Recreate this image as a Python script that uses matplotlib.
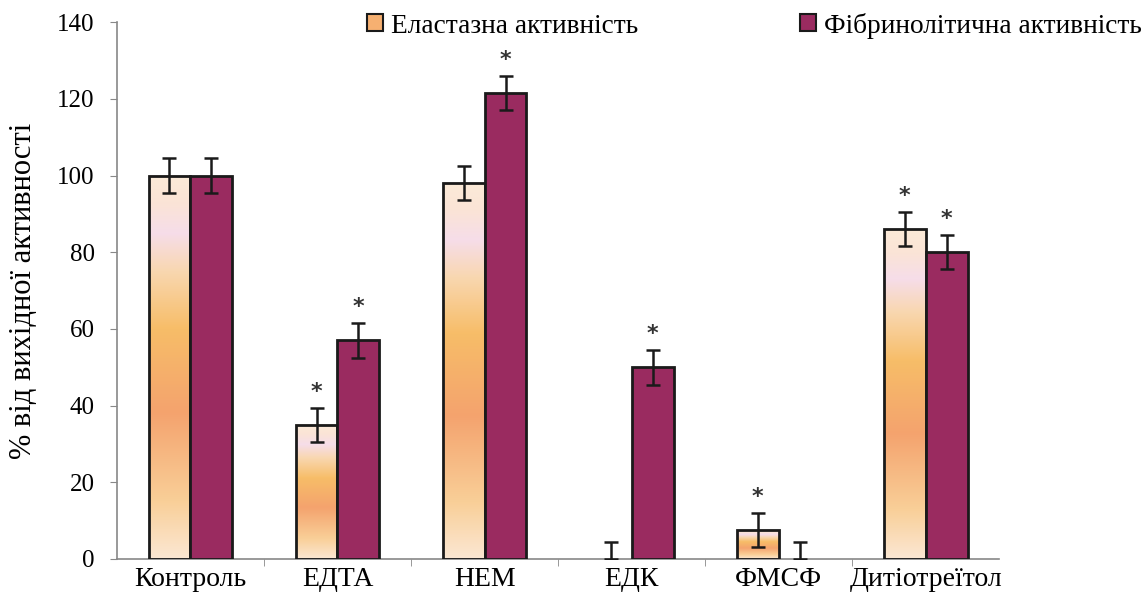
import numpy as np
import matplotlib.pyplot as plt
from matplotlib.colors import LinearSegmentedColormap
from matplotlib.patches import Patch

plt.rcParams['font.family'] = ['Liberation Serif', 'DejaVu Serif']

categories = ['Контроль', 'ЕДТА', 'НЕМ', 'ЕДК', 'ФМСФ', 'Дитіотреїтол']
elastase = [100, 35, 98, 0, 7.5, 86]
elastase_err = [4.5, 4.5, 4.5, 4.5, 4.5, 4.5]
fibrin = [100, 57, 121.5, 50, 0, 80]
fibrin_err = [4.5, 4.5, 4.5, 4.5, 4.5, 4.5]
elastase_star = [False, True, False, False, True, True]
fibrin_star = [False, True, True, True, False, True]

grad = LinearSegmentedColormap.from_list('elast', [
    (0.0, '#fbe7d3'), (0.15, '#f9cf98'), (0.38, '#f4a36e'),
    (0.6, '#f7bd68'), (0.75, '#f9d7b0'), (0.85, '#f6dde9'),
    (0.93, '#fbe4d6'), (1.0, '#fbead8')])
purple = '#9a2b60'
ink = '#1a1a1a'

fig, ax = plt.subplots(figsize=(11.46, 6.01), dpi=100)
fig.subplots_adjust(left=0.102, right=0.872, bottom=0.07, top=0.963)

x = np.arange(len(categories))
w = 0.285

# elastase bars with vertical gradient
g = np.linspace(0, 1, 256).reshape(-1, 1)
for xi, h in zip(x, elastase):
    if h > 0:
        ax.imshow(g, cmap=grad, origin='lower', aspect='auto',
                  extent=[xi - w, xi, 0, h], zorder=2)
        ax.bar(xi - w / 2, h, w, facecolor='none', edgecolor=ink, lw=2, zorder=3)
for xi, h in zip(x, fibrin):
    if h > 0:
        ax.bar(xi + w / 2, h, w, color=purple, edgecolor=ink, lw=2, zorder=3)

# error bars (only upward where the bar is zero)
for xi, v, e in zip(x - w / 2, elastase, elastase_err):
    lo = 0 if v == 0 else e
    ax.errorbar(xi, v, yerr=[[lo], [e]], fmt='none', ecolor=ink,
                elinewidth=1.8, capsize=5, capthick=1.8, zorder=4)
for xi, v, e in zip(x + w / 2, fibrin, fibrin_err):
    lo = 0 if v == 0 else e
    ax.errorbar(xi, v, yerr=[[lo], [e]], fmt='none', ecolor=ink,
                elinewidth=1.8, capsize=5, capthick=1.8, zorder=4)

for xi, v, e, s in zip(x - w / 2, elastase, elastase_err, elastase_star):
    if s:
        ax.text(xi, v + e + 1.5, '*', ha='center', va='bottom', fontsize=16,
                family='DejaVu Sans', fontweight='bold', color='#333333')
for xi, v, e, s in zip(x + w / 2, fibrin, fibrin_err, fibrin_star):
    if s:
        ax.text(xi, v + e + 1.5, '*', ha='center', va='bottom', fontsize=16,
                family='DejaVu Sans', fontweight='bold', color='#333333')

ax.set_xlim(-0.5, 5.5)
ax.set_ylim(0, 140)
ax.set_yticks(np.arange(0, 141, 20))
ax.set_xticks(x)
ax.set_xticklabels(categories, fontsize=20)
ax.set_xticks(np.arange(0.5, 5.5, 1), minor=True)
ax.tick_params(axis='x', which='major', length=0, pad=6)
ax.tick_params(axis='x', which='minor', length=5, color='#888888', direction='out')
ax.tick_params(axis='y', labelsize=18, color='#888888', length=5, pad=11)
for sp in ['top', 'right']:
    ax.spines[sp].set_visible(False)
for sp in ['left', 'bottom']:
    ax.spines[sp].set_color('#888888')
    ax.spines[sp].set_linewidth(1.2)
ax.set_ylabel('% від вихідної активності', fontsize=22, labelpad=14)

handles = [Patch(facecolor='#f6b071', edgecolor=ink, lw=1.5),
           Patch(facecolor=purple, edgecolor=ink, lw=1.5)]
fig.legend(handles, ['Еластазна активність', 'Фібринолітична активність'],
           loc='upper left', bbox_to_anchor=(0.299, 1.02), ncol=2, frameon=False,
           fontsize=19.7, handlelength=0.58, handleheight=0.58, handletextpad=0.3,
           columnspacing=5.9)

fig.savefig('out.png', dpi=100)
